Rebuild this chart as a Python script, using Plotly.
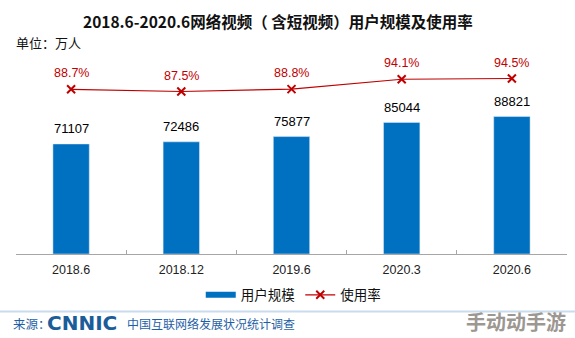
import plotly.graph_objects as go

categories = ["2018.6", "2018.12", "2019.6", "2020.3", "2020.6"]
users = [71107, 72486, 75877, 85044, 88821]
rate = [88.7, 87.5, 88.8, 94.1, 94.5]
rate_labels = ["88.7%", "87.5%", "88.8%", "94.1%", "94.5%"]

W, H = 575, 338
FONT = "Liberation Sans, Arial, Noto Sans CJK SC, sans-serif"
CJK = "Noto Sans CJK SC, Microsoft YaHei, sans-serif"
BLUE = "#0070C0"
RED = "#C00000"

fig = go.Figure()

fig.add_trace(go.Bar(
    x=categories, y=users, name="用户规模", marker_color=BLUE,
    width=0.33, showlegend=False, yaxis="y", hoverinfo="skip",
))
# legend proxy for the bar series (wide flat swatch like the original)
fig.add_trace(go.Scatter(
    x=categories[:1], y=[None], mode="lines", name="用户规模",
    line=dict(color=BLUE, width=6), yaxis="y",
))
fig.add_trace(go.Scatter(
    x=categories, y=rate, name="使用率", mode="lines+markers", yaxis="y2",
    line=dict(color=RED, width=1.2),
    marker=dict(symbol="x-thin", size=8, line=dict(color=RED, width=2), color=RED),
))

annotations = []
for i, v in enumerate(users):
    annotations.append(dict(x=i, y=v, xref="x", yref="y", text=str(v),
                            showarrow=False, yshift=15,
                            font=dict(family=FONT, size=13, color="#000000")))
for i, (v, t) in enumerate(zip(rate, rate_labels)):
    annotations.append(dict(x=i, y=v, xref="x", yref="y2", text=t,
                            showarrow=False, yshift=16,
                            font=dict(family=FONT, size=12.5, color=RED)))

# title & unit
annotations.append(dict(x=278 / W, y=1 - 21 / H, xref="paper", yref="paper",
                        text="<b>2018.6-2020.6网络视频（ 含短视频）用户规模及使用率</b>",
                        showarrow=False, xanchor="center", yanchor="middle",
                        font=dict(family=CJK, size=15.5, color="#111111")))
annotations.append(dict(x=14 / W, y=1 - 43 / H, xref="paper", yref="paper",
                        text="单位：万人", showarrow=False, xanchor="left", yanchor="middle",
                        font=dict(family=CJK, size=13, color="#111111")))
# footer
annotations.append(dict(x=11 / W, y=1 - 323 / H, xref="paper", yref="paper",
                        text="来源：", showarrow=False, xanchor="left", yanchor="middle",
                        font=dict(family=CJK, size=12.5, color="#1F5FA6")))
annotations.append(dict(x=45 / W, y=1 - 323 / H, xref="paper", yref="paper",
                        text="<b>CNNIC</b>", showarrow=False, xanchor="left", yanchor="middle",
                        font=dict(family="DejaVu Sans, sans-serif", size=20, color="#1B5C99")))
annotations.append(dict(x=125 / W, y=1 - 323 / H, xref="paper", yref="paper",
                        text="中国互联网络发展状况统计调查", showarrow=False, xanchor="left",
                        yanchor="middle",
                        font=dict(family=CJK, size=12, color="#1F5FA6")))
annotations.append(dict(x=568 / W, y=1 - 321 / H, xref="paper", yref="paper",
                        text="<b>手动动手游</b>", showarrow=False, xanchor="right",
                        yanchor="middle", opacity=0.85,
                        font=dict(family=CJK, size=20, color="#8C8580")))

shapes = [dict(type="line", xref="paper", yref="paper", x0=0, x1=1,
               y0=1 - 311.5 / H, y1=1 - 311.5 / H,
               line=dict(color="#C9DBEE", width=2))]

fig.update_layout(
    width=W, height=H,
    margin=dict(l=0, r=0, t=0, b=0),
    paper_bgcolor="white", plot_bgcolor="white",
    bargap=0.67,
    showlegend=True,
    legend=dict(orientation="h", x=0.51, y=1 - 295 / H, xanchor="center",
                yanchor="middle", font=dict(family=CJK, size=13.5, color="#111111"),
                itemwidth=30, bgcolor="rgba(0,0,0,0)"),
    xaxis=dict(domain=[16 / W, 567 / W], type="category",
               categoryorder="array", categoryarray=categories,
               range=[-0.5, len(categories) - 0.5],
               showline=True, linecolor="#A6A6A6", linewidth=1,
               ticks="inside", ticklen=4, tickcolor="#A6A6A6",
               tickson="boundaries", showgrid=False, zeroline=False,
               tickangle=0,
               tickfont=dict(family=FONT, size=12.5, color="#222222"),
               ticklabelstandoff=4, fixedrange=True),
    yaxis=dict(domain=[1 - 254 / H, 1 - 68.3 / H], range=[0, 120000],
               visible=False, showgrid=False, zeroline=False),
    yaxis2=dict(domain=[1 - 254 / H, 1 - 68.3 / H], range=[0, 100],
                overlaying="y", side="right", visible=False,
                showgrid=False, zeroline=False),
    annotations=annotations,
    shapes=shapes,
)

fig.write_html("out.html")
